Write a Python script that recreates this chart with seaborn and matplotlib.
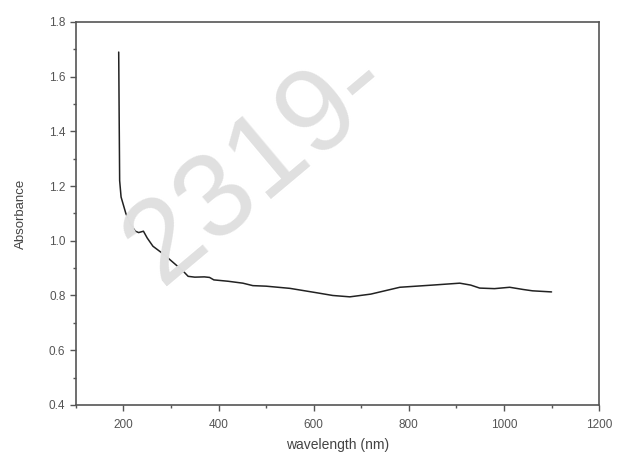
import pandas as pd
import seaborn as sns
import matplotlib.pyplot as plt
from matplotlib.ticker import MultipleLocator

# absorbance spectrum
wavelength = [190, 191, 192, 195, 200, 205, 215, 225, 232, 242, 250, 262, 285, 305, 325,
              336, 350, 370, 381, 390, 420, 451, 472, 500, 550, 606, 640, 676, 720,
              781, 850, 907, 930, 949, 980, 1012, 1040, 1060, 1100]
absorbance = [1.69, 1.45, 1.22, 1.16, 1.13, 1.10, 1.06, 1.035, 1.03, 1.035, 1.01, 0.98,
              0.95, 0.92, 0.89, 0.87, 0.867, 0.868, 0.866, 0.857, 0.852, 0.845, 0.836,
              0.834, 0.826, 0.81, 0.80, 0.795, 0.805, 0.83, 0.838, 0.845, 0.838, 0.827,
              0.825, 0.83, 0.822, 0.817, 0.813]

df = pd.DataFrame({"wavelength": wavelength, "absorbance": absorbance})

sns.set_style("white")
plt.rcParams["font.family"] = ["Liberation Sans", "DejaVu Sans"]

fig = plt.figure(figsize=(6.17, 4.58), dpi=100)
ax = fig.add_axes([0.123, 0.116, 0.848, 0.836])

# faint watermark like in the scan
fig.text(0.42, 0.64, "2319-", fontsize=86, color="#e0e0e0", rotation=40,
         ha="center", va="center", zorder=0)

sns.lineplot(data=df, x="wavelength", y="absorbance", ax=ax, color="#222222",
             linewidth=1.1, sort=False, zorder=3)
ax.patch.set_alpha(0)

ax.set_xlim(100, 1200)
ax.set_ylim(0.4, 1.8)
ax.xaxis.set_major_locator(MultipleLocator(200))
ax.xaxis.set_minor_locator(MultipleLocator(100))
ax.yaxis.set_major_locator(MultipleLocator(0.2))
ax.yaxis.set_minor_locator(MultipleLocator(0.1))
ax.set_xticks(range(200, 1201, 200))
ax.yaxis.set_major_formatter(plt.FuncFormatter(lambda v, p: f"{v:.1f}"))

ax.tick_params(axis="both", which="major", direction="out", length=4, width=1,
               colors="#555555", labelsize=8.5, labelcolor="#555555")
ax.tick_params(axis="x", which="major", pad=6)
ax.tick_params(axis="both", which="minor", direction="out", length=2, width=1,
               colors="#555555")
ax.tick_params(axis="x", which="both", bottom=True, top=False)
ax.tick_params(axis="y", which="both", left=True, right=False)

for s in ax.spines.values():
    s.set_visible(True)
    s.set_color("#555555")
    s.set_linewidth(1.2)

ax.set_xlabel("wavelength (nm)", fontsize=10, color="#444444", labelpad=5)
ax.set_ylabel("Absorbance", fontsize=9.5, color="#444444", labelpad=16)

fig.savefig("out.png", dpi=100)
